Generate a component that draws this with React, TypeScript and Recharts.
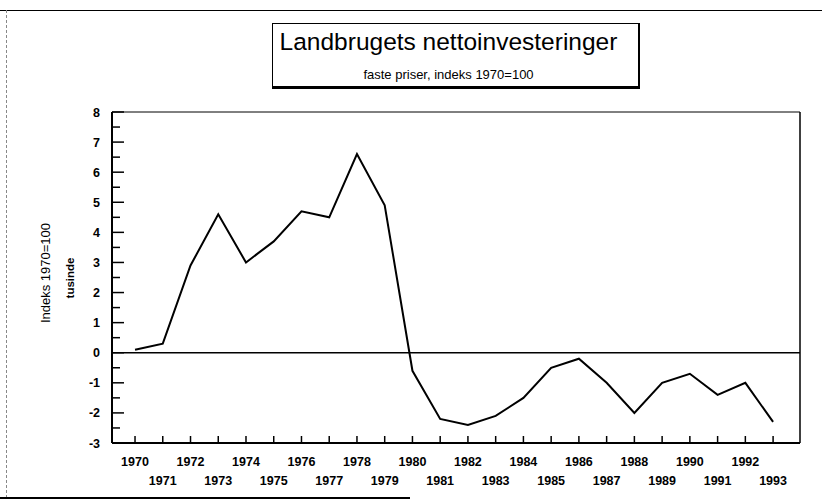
import { LineChart, Line, XAxis, YAxis, ReferenceLine } from 'recharts';

const years = [
  1970, 1971, 1972, 1973, 1974, 1975, 1976, 1977, 1978, 1979, 1980, 1981,
  1982, 1983, 1984, 1985, 1986, 1987, 1988, 1989, 1990, 1991, 1992, 1993,
];
const values = [
  0.1, 0.3, 2.9, 4.6, 3.0, 3.7, 4.7, 4.5, 6.6, 4.9, -0.6, -2.2,
  -2.4, -2.1, -1.5, -0.5, -0.2, -1.0, -2.0, -1.0, -0.7, -1.4, -1.0, -2.3,
];
const yTicks = [
  -3, -2.5, -2, -1.5, -1, -0.5, 0, 0.5, 1, 1.5, 2, 2.5, 3, 3.5, 4, 4.5, 5, 5.5, 6, 6.5, 7, 7.5, 8,
];

const data = years.map((year, i) => ({ year, value: values[i] }));

const X_MIN = 1969.17;
const X_MAX = 1993.97;
const FONT = '"Liberation Sans", Arial, sans-serif';

const YTick = (props: any) => {
  const { x, y, payload } = props;
  const major = Number.isInteger(payload.value);
  return (
    <g>
      <line x1={x} x2={x + (major ? 12 : 8)} y1={y} y2={y} stroke="#000" strokeWidth={1.5} />
      {major && (
        <text x={x - 12} y={y} dy={4.5} textAnchor="end" fontSize={12.5} fontWeight="bold" fontFamily={FONT} fill="#000">
          {payload.value}
        </text>
      )}
    </g>
  );
};

const XTick = (props: any) => {
  const { x, y, payload } = props;
  const even = payload.value % 2 === 0;
  return (
    <g>
      <line x1={x} x2={x} y1={y} y2={y - 7} stroke="#000" strokeWidth={1.5} />
      <text x={x} y={y + (even ? 23 : 42)} textAnchor="middle" fontSize={12.5} fontWeight="bold" fontFamily={FONT} fill="#000">
        {payload.value}
      </text>
    </g>
  );
};

export default function App() {
  return (
    <div style={{ position: 'absolute', left: 0, top: 0, width: 822, height: 503, background: '#fff' }}>
      {/* ramme */}
      <div style={{ position: 'absolute', left: 0, top: 10, width: 822, height: 0, borderTop: '1.5px solid #000' }} />
      <div style={{ position: 'absolute', left: 6, top: 10, width: 0, height: 488, borderLeft: '1px dashed #888' }} />
      <div style={{ position: 'absolute', left: 0, top: 497, width: 410, height: 0, borderTop: '2px solid #000' }} />

      {/* titel */}
      <div
        style={{
          position: 'absolute', left: 272, top: 23, width: 368, height: 66,
          border: '1px solid #000', borderBottom: '3px solid #000', borderRight: '2px solid #000',
          fontFamily: FONT, textAlign: 'center', boxSizing: 'border-box',
        }}
      >
        <div style={{ fontSize: 24.5, lineHeight: '28px', marginTop: 4, marginLeft: -14 }}>Landbrugets nettoinvesteringer</div>
        <div style={{ fontSize: 13, lineHeight: '16px', marginTop: 11, marginLeft: -14 }}>faste priser, indeks 1970=100</div>
      </div>

      {/* y-akse titel */}
      <div
        style={{
          position: 'absolute', left: 45, top: 273, transform: 'translate(-50%, -50%) rotate(-90deg)',
          fontFamily: FONT, fontSize: 13, whiteSpace: 'nowrap',
        }}
      >
        Indeks 1970=100
      </div>
      <div
        style={{
          position: 'absolute', left: 70, top: 278, transform: 'translate(-50%, -50%) rotate(-90deg)',
          fontFamily: FONT, fontSize: 11.5, fontWeight: 'bold', whiteSpace: 'nowrap',
        }}
      >
        tusinde
      </div>

      <LineChart
        width={822}
        height={503}
        data={data}
        margin={{ top: 112, right: 22, bottom: 20, left: 72 }}
        style={{ position: 'absolute', left: 0, top: 0 }}
      >
        <XAxis
          dataKey="year"
          type="number"
          domain={[X_MIN, X_MAX]}
          ticks={years}
          interval={0}
          height={40}
          axisLine={{ stroke: '#000', strokeWidth: 2 }}
          tickLine={false}
          tickSize={0}
          tickMargin={0}
          tick={<XTick />}
          allowDataOverflow
        />
        <YAxis
          type="number"
          domain={[-3, 8]}
          ticks={yTicks}
          interval={0}
          width={40}
          axisLine={{ stroke: '#000', strokeWidth: 2 }}
          tickLine={false}
          tickSize={0}
          tickMargin={0}
          tick={<YTick />}
          allowDataOverflow
        />
        <ReferenceLine y={0} stroke="#000" strokeWidth={1.5} />
        <ReferenceLine y={8} stroke="#000" strokeWidth={1} />
        <ReferenceLine x={X_MAX} stroke="#000" strokeWidth={1.5} />
        <Line
          type="linear"
          dataKey="value"
          stroke="#000"
          strokeWidth={2}
          dot={false}
          isAnimationActive={false}
        />
      </LineChart>
    </div>
  );
}
